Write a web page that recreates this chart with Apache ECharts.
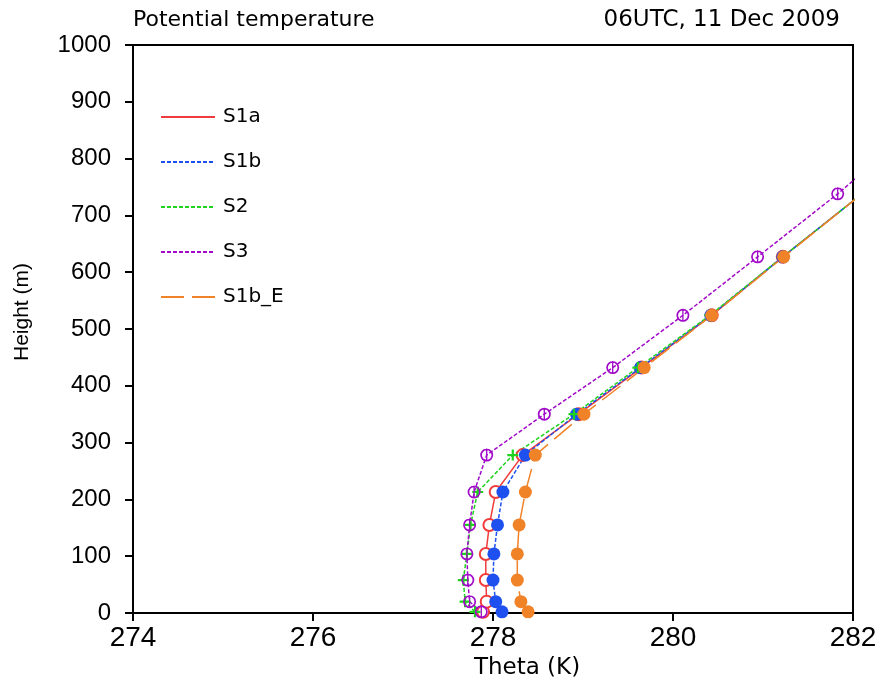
<!DOCTYPE html>
<html>
<head>
<meta charset="utf-8">
<script src="https://cdn.jsdelivr.net/npm/echarts@6/dist/echarts.min.js"></script>
<style>html,body{margin:0;padding:0;background:#fff}#c{width:880px;height:686px}</style>
</head>
<body>
<div id="c"></div>
<script>
// Heights (m) of the model levels
var heights = [2, 20, 58, 104, 155, 213, 278, 350, 432, 524, 627, 738, 862, 998];
// Potential temperature (K) per experiment
var thetaS1a  = [277.89, 277.93, 277.92, 277.92, 277.96, 278.03, 278.33, 278.95, 279.65, 280.43, 281.22, 282.10, 283.00, 283.90];
var thetaS1b  = [278.10, 278.03, 278.00, 278.01, 278.05, 278.11, 278.36, 278.93, 279.64, 280.42, 281.22, 282.10, 283.00, 283.90];
var thetaS2   = [277.80, 277.69, 277.67, 277.71, 277.75, 277.83, 278.22, 278.90, 279.61, 280.41, 281.22, 282.10, 283.00, 283.90];
var thetaS3   = [277.87, 277.74, 277.72, 277.71, 277.74, 277.79, 277.93, 278.57, 279.33, 280.11, 280.94, 281.83, 282.75, 283.70];
var thetaS1bE = [278.39, 278.31, 278.27, 278.27, 278.29, 278.36, 278.47, 279.01, 279.68, 280.43, 281.23, 282.10, 283.00, 283.90];
var seriesNames = ['S1a', 'S1b', 'S2', 'S3', 'S1b_E'];
var xTicks = [274, 276, 278, 280, 282];
var yTicks = [0, 100, 200, 300, 400, 500, 600, 700, 800, 900, 1000];

function pairs(th) { return th.map(function (t, i) { return [t, heights[i]]; }); }

var phiPath = 'path://M10,0 A10,10 0 1,1 10,20 A10,10 0 1,1 10,0 Z M10,2.6 A7.4,7.4 0 1,0 10,17.4 A7.4,7.4 0 1,0 10,2.6 Z M9,0 L11,0 L11,20 L9,20 Z';
var plusPath = 'path://M4,0 L6,0 L6,4 L10,4 L10,6 L6,6 L6,10 L4,10 L4,6 L0,6 L0,4 L4,4 Z';

var styles = [
  {color: '#f03c3c', type: 'solid', symbol: 'emptyCircle', size: 12, data: thetaS1a},
  {color: '#1e50f0', type: [4, 2], symbol: 'circle', size: 13, data: thetaS1b},
  {color: '#1ed21e', type: [4, 2], symbol: plusPath, size: 11, data: thetaS2},
  {color: '#a00ac8', type: [4, 2], symbol: phiPath, size: 13, data: thetaS3},
  {color: '#f08228', type: [23, 8], symbol: 'circle', size: 13, data: thetaS1bE}
];

var series = styles.map(function (s, i) {
  return {
    name: seriesNames[i],
    type: 'line',
    data: pairs(s.data),
    symbol: s.symbol,
    symbolSize: s.size,
    showSymbol: true,
    clip: true,
    lineStyle: {color: s.color, width: 1.5, type: s.type},
    itemStyle: {color: s.color, borderColor: s.color, borderWidth: s.symbol === 'emptyCircle' ? 1.6 : 0},
    emphasis: {disabled: true}
  };
});

var chart = echarts.init(document.getElementById('c'), null, {renderer: 'canvas'});
chart.setOption({
  animation: false,
  backgroundColor: '#fff',
  title: [
    {text: 'Potential temperature', left: 133, top: 9, padding: 0,
     textStyle: {fontFamily: 'DejaVu Sans', fontSize: 22, fontWeight: 'normal', color: '#000'}},
    {text: '06UTC, 11 Dec 2009', right: 40, top: 9, padding: 0,
     textStyle: {fontFamily: 'DejaVu Sans', fontSize: 23, fontWeight: 'normal', color: '#000'}}
  ],
  grid: {left: 133, right: 27, top: 45, bottom: 73, show: true, borderColor: '#000', borderWidth: 2, containLabel: false},
  legend: {
    orient: 'vertical', left: 160, top: 107, padding: 0,
    itemWidth: 54, itemHeight: 20, itemGap: 25,
    data: seriesNames,
    itemStyle: {opacity: 0},
    textStyle: {fontFamily: 'DejaVu Sans', fontSize: 20, color: '#000', padding: [0, 0, 0, 3]},
    selectedMode: false
  },
  xAxis: {
    type: 'value', min: 274, max: 282, interval: 2,
    name: 'Theta (K)', nameLocation: 'middle', nameGap: 40,
    nameTextStyle: {fontFamily: 'DejaVu Sans', fontSize: 23, color: '#000', padding: [0, 0, 0, 68]},
    axisLine: {show: true, lineStyle: {color: '#000', width: 2}},
    axisTick: {show: true, inside: false, length: 8, lineStyle: {color: '#000', width: 2}},
    axisLabel: {fontFamily: 'Liberation Sans', fontSize: 28, color: '#000', margin: 11,
      formatter: function (v) { return xTicks.indexOf(v) >= 0 ? String(v) : ''; }},
    splitLine: {show: false}
  },
  yAxis: {
    type: 'value', min: 0, max: 1000, interval: 100,
    name: 'Height (m)', nameLocation: 'middle', nameGap: 100,
    nameTextStyle: {fontFamily: 'Liberation Sans', fontSize: 21, color: '#000', padding: [0, 0, 0, 34]},
    axisLine: {show: true, lineStyle: {color: '#000', width: 2}},
    axisTick: {show: true, inside: false, length: 8, lineStyle: {color: '#000', width: 2}},
    axisLabel: {fontFamily: 'Liberation Sans', fontSize: 24, color: '#000', margin: 22,
      formatter: function (v) { return yTicks.indexOf(v) >= 0 ? String(v) : ''; }},
    splitLine: {show: false}
  },
  series: series
});
</script>
</body>
</html>
